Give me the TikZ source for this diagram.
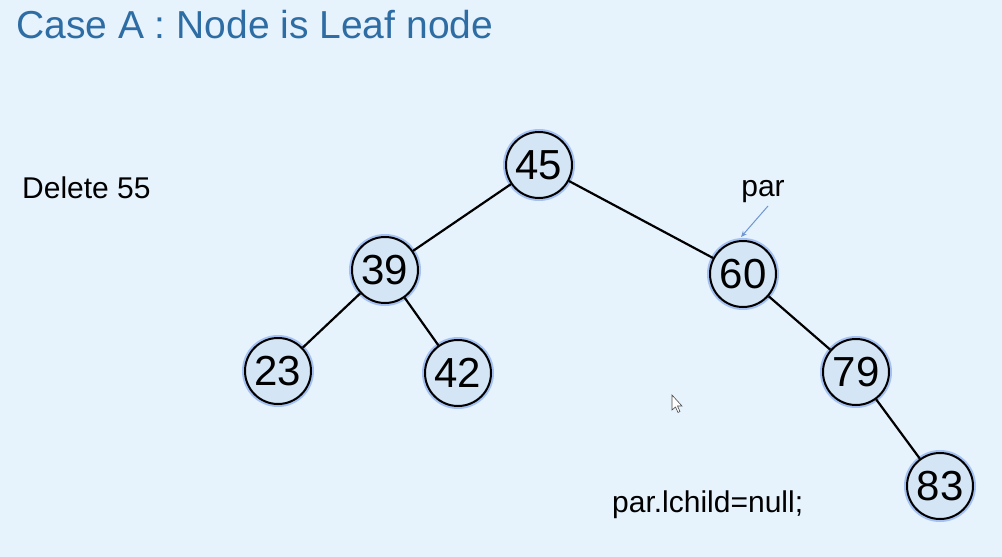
\documentclass[tikz,border=0pt]{standalone}
\usepackage{fontspec}
\setmainfont{Liberation Sans}
\usetikzlibrary{arrows.meta}
\definecolor{bg}{RGB}{230,243,253}
\definecolor{nodefill}{RGB}{212,229,245}
\definecolor{glow}{RGB}{120,160,235}
\definecolor{titleblue}{RGB}{46,109,164}
\definecolor{arrowblue}{RGB}{110,150,210}
\tikzset{
  treenode/.style={circle, minimum size=66pt, inner sep=0pt,
    fill=nodefill, draw=black, line width=2pt,
    preaction={draw=glow, line width=6pt, opacity=0.6},
    font=\fontsize{42}{46}\selectfont},
  edgeline/.style={draw=black, line width=2.2pt},
  label/.style={font=\fontsize{30}{34}\selectfont, text=black, inner sep=0pt}
}
\begin{document}
\begin{tikzpicture}[x=1pt,y=-1pt]
\fill[bg] (0,0) rectangle (1002,557);
\useasboundingbox (0,0) rectangle (1002,557);
\node[anchor=west, text=titleblue, font=\fontsize{39}{44}\selectfont, inner sep=0pt] (title) at (16,25) {Case A : Node is Leaf node};
\node[label, anchor=west] (del) at (22,188) {Delete 55};
\node[treenode] (n45) at (539,165) {45};
\node[treenode] (n39) at (385,270) {39};
\node[treenode] (n60) at (743,274) {60};
\node[treenode] (n23) at (278,371) {23};
\node[treenode] (n42) at (458,373) {42};
\node[treenode] (n79) at (856,372) {79};
\node[treenode] (n83) at (940,486) {83};
\draw[edgeline] (n45) -- (n39);
\draw[edgeline] (n45) -- (n60);
\draw[edgeline] (n39) -- (n23);
\draw[edgeline] (n39) -- (n42);
\draw[edgeline] (n60) -- (n79);
\draw[edgeline] (n79) -- (n83);
\node[label] (par) at (763,192) {par};
\coordinate (partip) at (741,237);
\draw[arrowblue, line width=1pt, -{Stealth[length=6pt,width=5pt]}] (768,206) -- (partip);
\node[label, anchor=west] (code) at (612,505) {par.lchild=null;};
% mouse cursor
\draw[fill=white, draw=black!70, line width=0.6pt] (672,395) -- (672,410) -- (675.5,407) -- (678,412.5) -- (680,411.5) -- (677.5,406) -- (682,406) -- cycle;
\end{tikzpicture}
\end{document}
